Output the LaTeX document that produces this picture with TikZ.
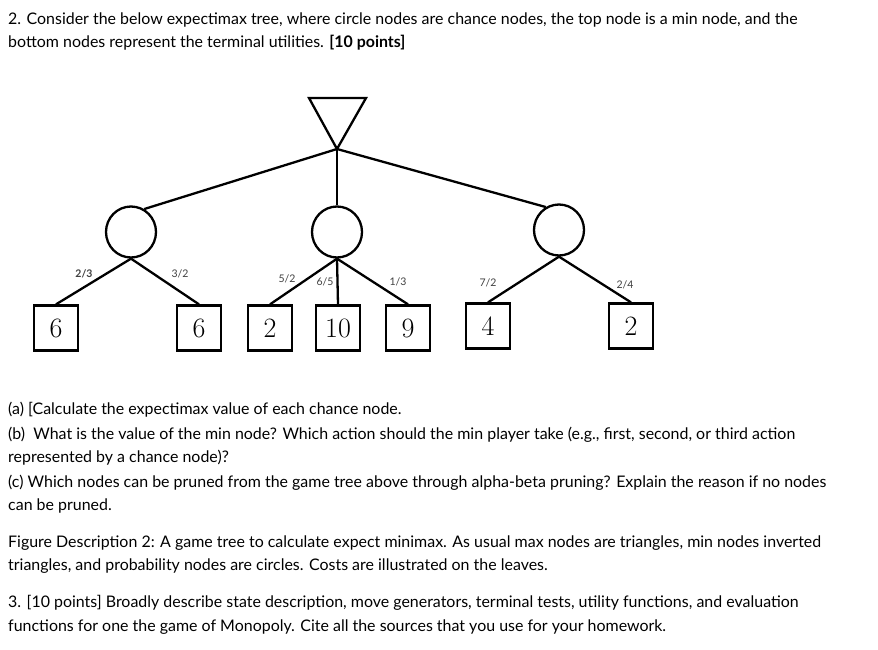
\documentclass[tikz,border=0pt]{standalone}
\usepackage{fontspec}
\setmainfont{Lato}
\newfontfamily\numfont{Latin Modern Roman}
\usetikzlibrary{shapes.geometric}
\begin{document}
\begin{tikzpicture}[x=1pt,y=-1pt,
  edge/.style={line width=2.3pt},
  chance/.style={draw,line width=2.3pt,ellipse,minimum width=50pt,minimum height=51pt,inner sep=0},
  leaf/.style={draw,line width=2.3pt,minimum width=44pt,minimum height=45pt,inner sep=0,font=\numfont\fontsize{28}{28}\selectfont},
  prob/.style={font=\fontsize{10.5}{10.5}\selectfont,text=black!75},
  txt/.style={anchor=west,font=\fontsize{15.95}{18}\selectfont,inner sep=0}]
\useasboundingbox (0,0) rectangle (878,650);
\fill[white] (0,0) rectangle (878,650);
\node[txt] at (8,20) {2. Consider the below expectimax tree, where circle nodes are chance nodes, the top node is a min node, and the};
\node[txt] at (8,43) {bottom nodes represent the terminal utilities. \textbf{[10 points]}};
% tree
\draw[line width=2.3pt,line join=miter] (309,98) -- (366,98) -- (337,149) -- cycle;
\coordinate (r) at (337,149);
\node[chance] (c1) at (131,232) {};
\node[chance] (c2) at (337,232) {};
\node[chance] (c3) at (559,230) {};
\node[leaf] (l1) at (56,328) {6};
\node[leaf] (l2) at (199,328) {6};
\node[leaf] (l3) at (270,328) {2};
\node[leaf] (l4) at (338,328) {10};
\node[leaf] (l5) at (408,328) {9};
\node[leaf] (l6) at (488,326) {4};
\node[leaf] (l7) at (631,326) {2};
\draw[edge] (r) -- (c1.60);
\draw[edge] (r) -- (c2.north);
\draw[edge] (r) -- (c3.120);
\draw[edge] (c1.south) -- (l1.north);
\draw[edge] (c1.south) -- (l2.north);
\draw[edge] (c2.south) -- (l3.north);
\draw[edge] (c2.south) -- (l4.north);
\draw[edge] (c2.south) -- (l5.north);
\draw[edge] (c3.south) -- (l6.north);
\draw[edge] (c3.south) -- (l7.north);
\node[prob,font=\bfseries\fontsize{10.5}{10.5}\selectfont] (p1) at (84,274) {2/3};
\node[prob] (p2) at (180,274) {3/2};
\node[prob] (p3) at (287,279) {5/2};
\node[prob] (p4) at (325,282) {6/5};
\node[prob] (p5) at (398,282) {1/3};
\node[prob] (p6) at (488,283) {7/2};
\node[prob] (p7) at (625,285) {2/4};
% questions
\node[txt] at (8,410) {(a) [Calculate the expectimax value of each chance node.};
\node[txt] at (8,435) {(b)\ \ What is the value of the min node? Which action should the min player take (e.g., first, second, or third action};
\node[txt] at (8,458) {represented by a chance node)?};
\node[txt] at (8,483) {(c) Which nodes can be pruned from the game tree above through alpha-beta pruning? Explain the reason if no nodes};
\node[txt] at (8,506) {can be pruned.};
\node[txt] at (8,543) {Figure Description 2: A game tree to calculate expect minimax. As usual max nodes are triangles, min nodes inverted};
\node[txt] at (8,566) {triangles, and probability nodes are circles. Costs are illustrated on the leaves.};
\node[txt] at (8,603) {3. [10 points] Broadly describe state description, move generators, terminal tests, utility functions, and evaluation};
\node[txt] at (8,627) {functions for one the game of Monopoly. Cite all the sources that you use for your homework.};
\end{tikzpicture}
\end{document}
